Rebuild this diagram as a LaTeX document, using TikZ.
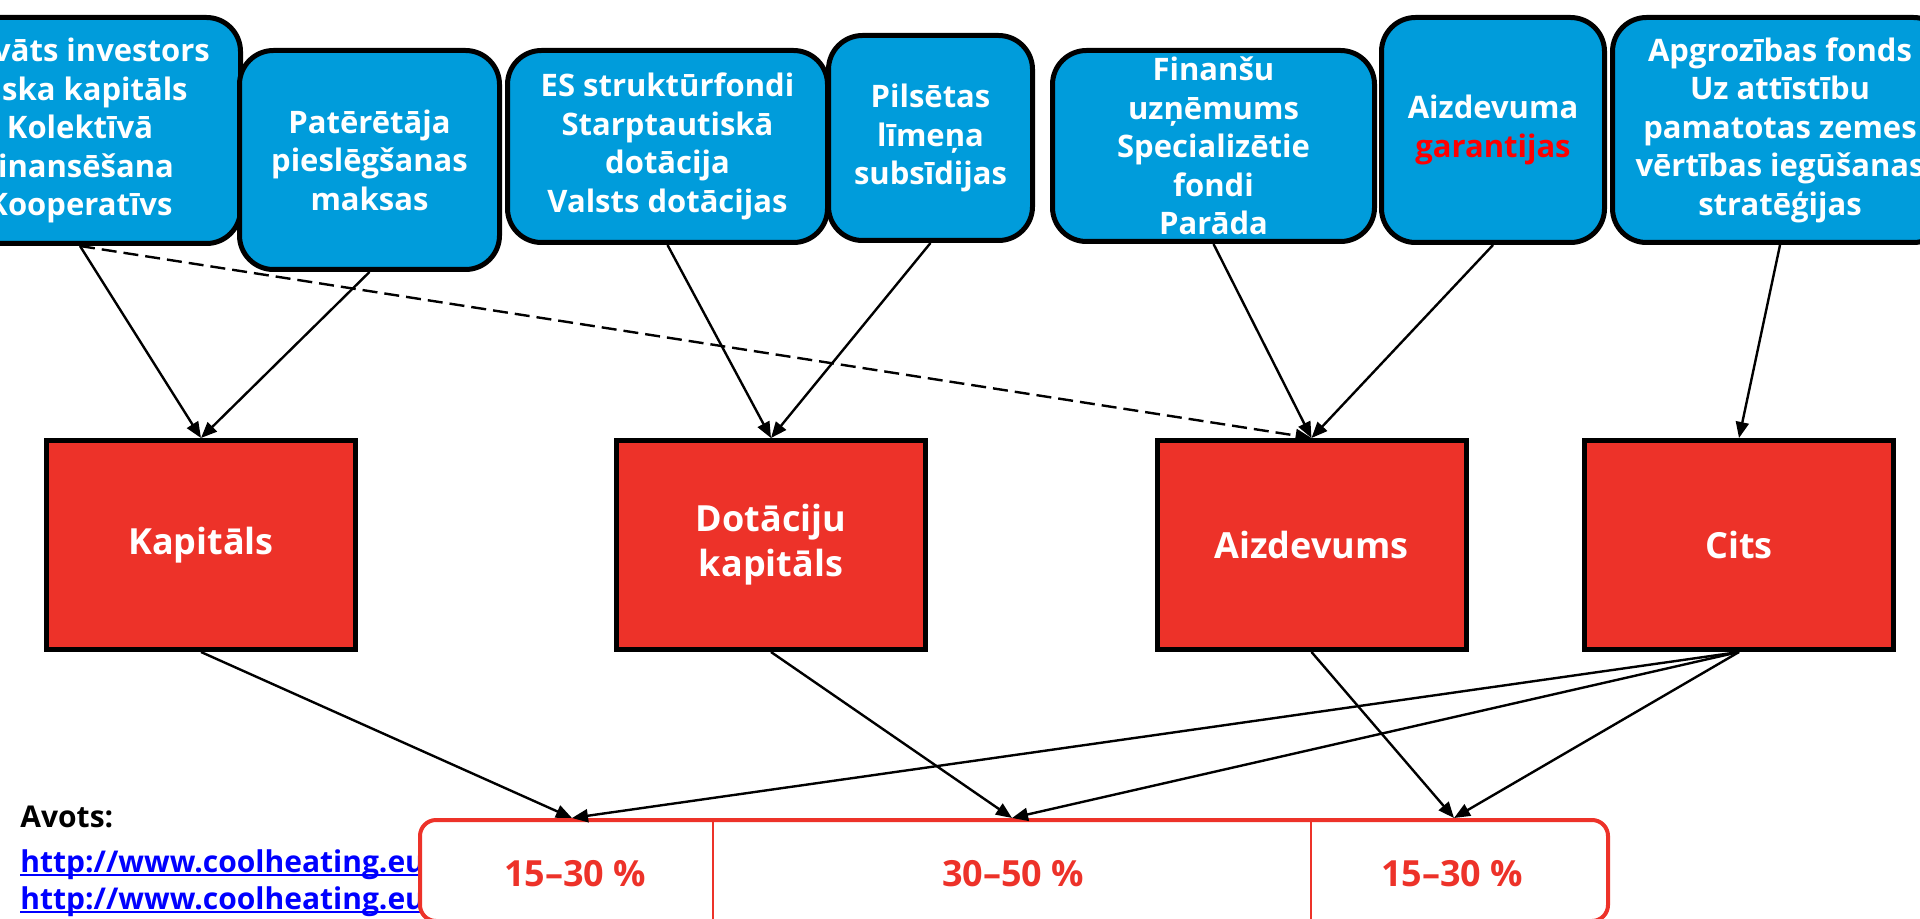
\documentclass[tikz,border=0pt]{standalone}
\usepackage{fontspec}
\setmainfont{Open Sans}
\usetikzlibrary{arrows.meta}
\definecolor{fundblue}{RGB}{0,156,219}
\definecolor{kindred}{RGB}{237,50,41}
\definecolor{hotred}{RGB}{255,0,0}
\definecolor{linkblue}{RGB}{0,0,255}

\begin{document}
\begin{tikzpicture}[x=0.5pt,y=-0.5pt,
  source/.style={draw=black, line width=2.5pt, fill=fundblue, rounded corners=17pt,
    text=white, font=\bfseries\fontsize{15.5}{19.25}\selectfont, align=center, inner sep=0pt},
  kind/.style={draw=black, line width=2.5pt, fill=kindred, text=white,
    font=\bfseries\fontsize{18}{22.5}\selectfont, align=center,
    minimum width=154.5pt, minimum height=104.5pt, inner sep=0pt},
  flow/.style={line width=1.2pt, -{Triangle[length=8pt,width=6.5pt]}},
  flowdash/.style={flow, dash pattern=on 7.5pt off 3.5pt},
  share/.style={text=kindred, font=\bfseries\fontsize{18}{22}\selectfont, anchor=base},
  note/.style={anchor=base west, inner sep=0pt, font=\bfseries\fontsize{15}{18}\selectfont},
  linkline/.style={draw=linkblue, line width=1pt},
  divider/.style={draw=kindred, line width=1.3pt}
]
\path[use as bounding box, clip] (0,0) rectangle (1920,919);

% funding sources
\node[source, minimum width=160.5pt, minimum height=113pt] (b1) at (80,130.5)
  {Privāts investors\\Riska kapitāls\\Kolektīvā\\finansēšana\\Kooperatīvs};
\node[source, minimum width=130pt, minimum height=109.5pt] (b2) at (369.5,160)
  {Patērētāja\\pieslēgšanas\\maksas};
\node[source, minimum width=160pt, minimum height=96pt] (b3) at (667.5,146.5)
  {ES struktūrfondi\\Starptautiskā\\dotācija\\Valsts dotācijas};
\node[source, minimum width=102pt, minimum height=102.5pt] (b4) at (930.5,138)
  {Pilsētas\\līmeņa\\subsīdijas};
\node[source, minimum width=161pt, minimum height=95.5pt] (b5) at (1213.5,146)
  {Finanšu\\uzņēmums\\Specializētie\\fondi\\Parāda};
\node[source, minimum width=111.5pt, minimum height=112.5pt] (b6) at (1493,130)
  {Aizdevuma\\\textcolor{hotred}{garantijas}};
\node[source, minimum width=167.5pt, minimum height=112.5pt] (b7) at (1780,130)
  {Apgrozības fonds\\Uz attīstību\\pamatotas zemes\\vērtības iegūšanas\\stratēģijas};

% kinds of financing
\node[kind] (kap) at (201,545) {Kapitāls};
\node[kind] (dot) at (771,545) {Dotāciju\\kapitāls};
\node[kind] (aiz) at (1311.5,545) {Aizdevums};
\node[kind] (cits) at (1739,545) {Cits};

% sources
\node[note] (avots) at (20,827) {Avots:};
\node[note, text=linkblue] (link1) at (20,872) {http://www.coolheating.eu};
\node[note, text=linkblue] (link2) at (20,909) {http://www.coolheating.eu};
\draw[linkline] ([yshift=-1.6pt]link1.base west) -- ([yshift=-1.6pt]link1.base east);
\draw[linkline] ([yshift=-1.6pt]link2.base west) -- ([yshift=-1.6pt]link2.base east);

% share bar
\node[draw=kindred, line width=2pt, fill=white, rounded corners=8pt,
  minimum width=594pt, minimum height=50.5pt, inner sep=0pt] (bar) at (1014,870.5) {};
\coordinate (d1) at (713,818);
\coordinate (d2) at (1311,818);
\draw[divider] (d1) -- (d1 |- bar.south);
\draw[divider] (d2) -- (d2 |- bar.south);
\node[share] (p1) at (575,886) {15–30 \%};
\node[share] (p2) at (1013,886) {30–50 \%};
\node[share] (p3) at (1452,886) {15–30 \%};
\coordinate (t1) at (572,818);
\coordinate (t2) at (1012,818);
\coordinate (t3) at (1454,818);

% connectors
\draw[flow] (b1.south) -- (kap.north);
\draw[flow] (b2.south) -- (kap.north);
\draw[flow] (b3.south) -- (dot.north);
\draw[flow] (b4.south) -- (dot.north);
\draw[flowdash] (b1.south) -- (aiz.north);
\draw[flow] (b5.south) -- (aiz.north);
\draw[flow] (b6.south) -- (aiz.north);
\draw[flow] (b7.south) -- (cits.north);
\draw[flow] (kap.south) -- (t1);
\draw[flow] (cits.south) -- (t1);
\draw[flow] (dot.south) -- (t2);
\draw[flow] (cits.south) -- (t2);
\draw[flow] (aiz.south) -- (t3);
\draw[flow] (cits.south) -- (t3);
\end{tikzpicture}
\end{document}
